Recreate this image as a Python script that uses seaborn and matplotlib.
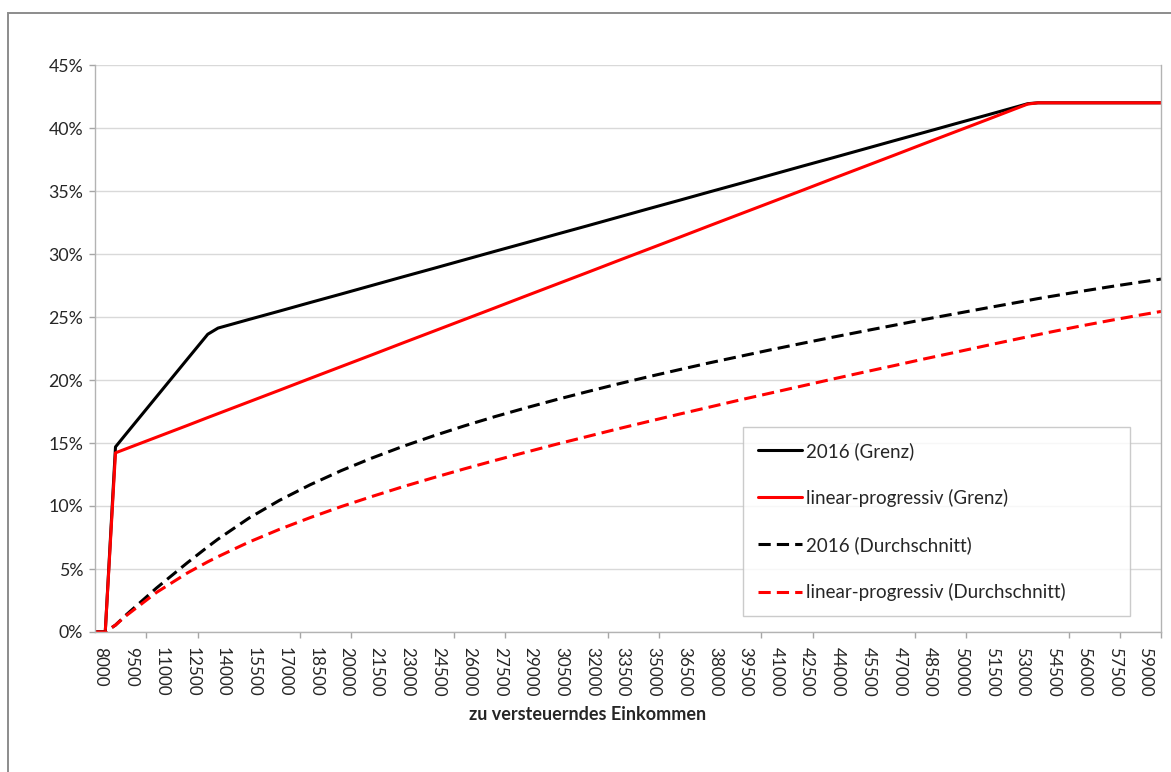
import matplotlib.pyplot as plt
import pandas as pd
import seaborn as sns
from matplotlib.patches import Rectangle
from matplotlib.ticker import FixedLocator, PercentFormatter
import matplotlib.transforms as mtransforms

# 1. Werte (zu versteuerndes Einkommen in Euro, Steuersätze in %)
income = [8000, 8500, 9000, 9500, 11000, 12500, 13500, 14000, 15500, 17000,
          18500, 20000, 21500, 23000, 24500, 26000, 27500, 29000, 30500, 32000,
          33500, 35000, 36500, 38000, 39500, 41000, 42500, 44000, 45500, 47000,
          48500, 50000, 51500, 53000, 53500, 54000, 54500, 56000, 57500, 59000,
          60000]

grenz_2016 = [0, 0, 14.69, 15.69, 18.67, 21.65, 23.63, 24.12, 24.80, 25.47,
              26.15, 26.82, 27.50, 28.18, 28.85, 29.53, 30.21, 30.88, 31.56, 32.23,
              32.91, 33.59, 34.26, 34.94, 35.61, 36.29, 36.97, 37.64, 38.32, 39.00,
              39.67, 40.35, 41.02, 41.70, 41.93, 42, 42, 42, 42, 42,
              42]

grenz_linear = [0, 0, 14.22, 14.53, 15.46, 16.39, 17.02, 17.33, 18.26, 19.19,
                20.13, 21.06, 21.99, 22.93, 23.86, 24.79, 25.72, 26.66, 27.59, 28.52,
                29.46, 30.39, 31.32, 32.26, 33.19, 34.12, 35.05, 35.99, 36.92, 37.85,
                38.79, 39.72, 40.65, 41.59, 41.90, 42, 42, 42, 42, 42,
                42]

avg_2016 = [0, 0, 0.55, 1.33, 3.49, 5.49, 6.76, 7.37, 9.03, 10.45,
            11.69, 12.80, 13.80, 14.72, 15.56, 16.35, 17.09, 17.78, 18.44, 19.07,
            19.68, 20.26, 20.82, 21.37, 21.89, 22.41, 22.91, 23.40, 23.88, 24.35,
            24.82, 25.27, 25.72, 26.16, 26.31, 26.46, 26.60, 27.01, 27.40, 27.77,
            28.01]

avg_linear = [0, 0, 0.55, 1.27, 3.14, 4.68, 5.57, 5.98, 7.13, 8.15,
              9.08, 9.95, 10.75, 11.52, 12.24, 12.94, 13.61, 14.26, 14.90, 15.51,
              16.12, 16.71, 17.29, 17.86, 18.43, 18.98, 19.53, 20.08, 20.62, 21.15,
              21.69, 22.21, 22.74, 23.26, 23.43, 23.60, 23.77, 24.26, 24.72, 25.16,
              25.44]

series_names = ["2016 (Grenz)", "linear-progressiv (Grenz)",
                "2016 (Durchschnitt)", "linear-progressiv (Durchschnitt)"]
tick_labels = [str(v) for v in range(8000, 59001, 1500)]

# 2. Long-Format für seaborn
df = pd.concat([
    pd.DataFrame({"income": income, "rate": vals, "series": name})
    for name, vals in zip(series_names,
                          [grenz_2016, grenz_linear, avg_2016, avg_linear])
])

# 3. Stil
sns.set_theme(style="white")
plt.rcParams["font.family"] = ["Lato", "DejaVu Sans"]

fig = plt.figure(figsize=(11.71, 7.72), dpi=100)
ax = fig.add_axes([95 / 1171, 1 - 632 / 772, (1161 - 95) / 1171, (632 - 65) / 772])

# äußerer Rahmen
fig.patches.append(Rectangle((8 / 1171, -0.05), 1.2, 1.05 - 13 / 772,
                             transform=fig.transFigure, fill=False,
                             edgecolor="#8c8c8c", linewidth=1.4))

colors = {series_names[0]: "#000000", series_names[1]: "#ff0000",
          series_names[2]: "#000000", series_names[3]: "#ff0000"}
dashes = {series_names[0]: "", series_names[1]: "",
          series_names[2]: (4, 2), series_names[3]: (4, 2)}

sns.lineplot(data=df, x="income", y="rate", hue="series", style="series",
             palette=colors, dashes=dashes, linewidth=2.2, estimator=None,
             sort=False, ax=ax)

# 4. Achsen
ax.set_xlim(8000, 60000)
ax.set_ylim(0, 45)
ax.set_yticks(range(0, 46, 5))
ax.yaxis.set_major_formatter(PercentFormatter(decimals=0))
ax.grid(axis="y", color="#d9d9d9", linewidth=1)
ax.set_axisbelow(True)

ax.set_xticks(range(8000, 59001, 1500))
ax.set_xticklabels(tick_labels, rotation=-90)
ax.xaxis.set_minor_locator(FixedLocator(list(range(8000, 58001, 2500)) + [60000]))
ax.tick_params(axis="x", which="major", length=0, pad=11, labelsize=12.3,
               labelcolor="#262626")
ax.tick_params(axis="x", which="minor", bottom=True, length=4.5,
               color="#a6a6a6", width=1)
ax.tick_params(axis="y", left=True, length=4.5, color="#a6a6a6", width=1,
               pad=4, labelsize=12.8, labelcolor="#262626")
offset = mtransforms.ScaledTranslation(5 / 100, 0, fig.dpi_scale_trans)
for lbl in ax.get_xticklabels():
    lbl.set_transform(lbl.get_transform() + offset)

for side in ["left", "bottom", "right"]:
    ax.spines[side].set_color("#b3b3b3")
    ax.spines[side].set_linewidth(1)
ax.spines["top"].set_visible(False)

ax.set_xlabel("")
ax.set_ylabel("")
fig.text(588 / 1171, 1 - 714 / 772, "zu versteuerndes Einkommen",
         ha="center", va="center", fontsize=13, fontweight="bold",
         color="#262626")

# 5. Legende
handles, labels = ax.get_legend_handles_labels()
leg = ax.legend(handles, labels, loc="upper left",
                bbox_to_anchor=((743 - 95) / 1066, (632 - 613) / 567,
                                (1130 - 743) / 1066, (613 - 427) / 567),
                mode="expand", borderaxespad=0, frameon=True, fancybox=False,
                fontsize=13.5, handlelength=2.35, handletextpad=0.2,
                labelspacing=1.55, borderpad=0.8)
leg.get_frame().set_edgecolor("#bfbfbf")
leg.get_frame().set_linewidth(1)
for t in leg.get_texts():
    t.set_color("#262626")

fig.savefig("out.png", dpi=100)
